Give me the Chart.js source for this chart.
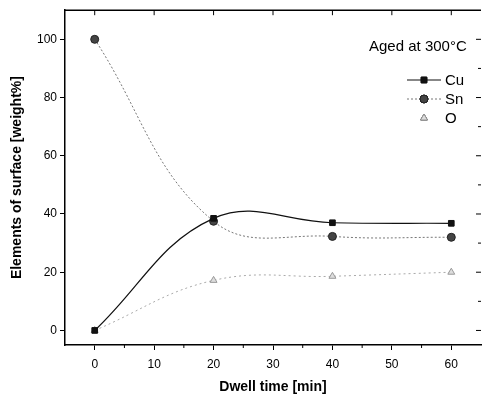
<!DOCTYPE html>
<html><head><meta charset="utf-8">
<script src="https://cdn.jsdelivr.net/npm/chart.js@4.4.0/dist/chart.umd.min.js"></script>
<style>html,body{margin:0;padding:0;background:#fff}</style>
</head><body>
<div style="width:486px;height:401px"><canvas id="c"></canvas></div>
<script>
// values
const dwell = [0, 20, 40, 60];
const cu = [0, 38.5, 37, 36.8];
const sn = [100, 37.5, 32.3, 32];
const oxy = [0, 17.2, 18.6, 20];
const xTicks = [0, 10, 20, 30, 40, 50, 60];
const yTicks = [0, 20, 40, 60, 80, 100];
const names = ['Cu', 'Sn', 'O'];

const FONT = "'Liberation Sans', Arial, sans-serif";

function pts(arr) {
    return dwell.map((d, i) => ({ x: d, y: arr[i] }));
}

// top line, mirrored ticks, minor ticks and the legend block
const framePlugin = {
    id: 'frame',
    afterDraw(chart) {
        const ctx = chart.ctx;
        const a = chart.chartArea;
        const xs = chart.scales.x, ys = chart.scales.y;
        ctx.save();
        ctx.strokeStyle = '#000';
        ctx.lineWidth = 1.5;
        ctx.beginPath();
        ctx.moveTo(a.left, a.top); ctx.lineTo(a.right, a.top);
        ctx.stroke();
        ctx.lineWidth = 1;
        ctx.beginPath();
        for (let v = -5; v <= 65; v += 5) {
            const px = xs.getPixelForValue(v);
            if (px < a.left + 1 || px > a.right - 1) continue;
            if (v % 10 === 0) {
                ctx.moveTo(px, a.top); ctx.lineTo(px, a.top + 5);
            } else {
                ctx.moveTo(px, a.bottom); ctx.lineTo(px, a.bottom + 3);
            }
        }
        for (let v = 0; v <= 110; v += 10) {
            const py = ys.getPixelForValue(v);
            if (py < a.top + 1 || py > a.bottom - 1) continue;
            const len = v % 20 === 0 ? 5 : 3;
            ctx.moveTo(a.right, py); ctx.lineTo(a.right - len, py);
        }
        ctx.stroke();

        // header text
        ctx.fillStyle = '#000';
        ctx.font = '15px ' + FONT;
        ctx.textBaseline = 'middle';
        ctx.textAlign = 'left';
        ctx.fillText('Aged at 300°C', 369, 47);

        // legend rows
        chart.data.datasets.forEach((ds, i) => {
            const y = 80 + i * 19;
            ctx.save();
            if (ds.showLegendLine) {
                ctx.strokeStyle = ds.borderColor;
                ctx.lineWidth = ds.borderWidth;
                ctx.setLineDash(ds.borderDash || []);
                ctx.beginPath();
                ctx.moveTo(407, y); ctx.lineTo(441, y);
                ctx.stroke();
            }
            ctx.restore();
            Chart.helpers.drawPoint(ctx, {
                pointStyle: ds.pointStyle,
                radius: ds.pointRadius,
                borderWidth: ds.pointBorderWidth,
                rotation: 0
            }, 424, y);
            ctx.fillStyle = ds.pointBackgroundColor;
            ctx.strokeStyle = ds.pointBorderColor;
            ctx.fill();
            ctx.stroke();
            ctx.fillStyle = '#000';
            ctx.font = '15px ' + FONT;
            ctx.fillText(names[i], 445, y + 1);
        });
        ctx.restore();
    }
};

new Chart(document.getElementById('c'), {
    type: 'scatter',
    data: {
        datasets: [{
            label: names[0],
            data: pts(cu),
            showLine: true,
            tension: 0.4,
            borderColor: '#111',
            borderWidth: 1.2,
            pointStyle: 'rect',
            pointRadius: 4,
            pointBackgroundColor: '#111',
            pointBorderColor: '#111',
            pointBorderWidth: 1,
            showLegendLine: true
        }, {
            label: names[1],
            data: pts(sn),
            showLine: true,
            tension: 0.4,
            borderColor: '#777',
            borderWidth: 1,
            borderDash: [2, 2],
            pointStyle: 'circle',
            pointRadius: 4,
            pointBackgroundColor: '#444',
            pointBorderColor: '#222',
            pointBorderWidth: 1,
            showLegendLine: true
        }, {
            label: names[2],
            data: pts(oxy),
            showLine: true,
            tension: 0.4,
            borderColor: '#aaa',
            borderWidth: 1,
            borderDash: [2, 3],
            pointStyle: 'triangle',
            pointRadius: 4,
            pointBackgroundColor: '#ddd',
            pointBorderColor: '#999',
            pointBorderWidth: 1,
            showLegendLine: false
        }]
    },
    options: {
        responsive: true,
        maintainAspectRatio: false,
        animation: false,
        layout: { padding: { top: 10, right: 0, left: 0, bottom: 0 } },
        plugins: {
            legend: { display: false },
            tooltip: { enabled: false }
        },
        scales: {
            x: {
                type: 'linear',
                min: -5,
                max: 65,
                afterBuildTicks: s => { s.ticks = xTicks.map(v => ({ value: v })); },
                afterFit: s => { s.height = 56; },
                ticks: { color: '#000', padding: 7, font: { family: FONT, size: 12 } },
                grid: { drawOnChartArea: false, drawTicks: true, tickLength: 5, color: '#000' },
                border: { display: true, color: '#000', width: 1.5 },
                title: {
                    display: true,
                    text: 'Dwell time [min]',
                    color: '#000',
                    font: { family: FONT, size: 14, weight: 'bold' },
                    padding: { top: 4, bottom: 5 }
                }
            },
            y: {
                min: -5,
                max: 110,
                afterBuildTicks: s => { s.ticks = yTicks.map(v => ({ value: v })); },
                afterFit: s => { s.width = 65; },
                ticks: { color: '#000', padding: 3, font: { family: FONT, size: 12 } },
                grid: { drawOnChartArea: false, drawTicks: true, tickLength: 5, color: '#000' },
                border: { display: true, color: '#000', width: 1.5 },
                title: {
                    display: true,
                    text: 'Elements of surface [weight%]',
                    color: '#000',
                    font: { family: FONT, size: 14, weight: 'bold' },
                    padding: { top: 9, bottom: 4 }
                }
            }
        }
    },
    plugins: [framePlugin]
});
</script>
</body></html>
